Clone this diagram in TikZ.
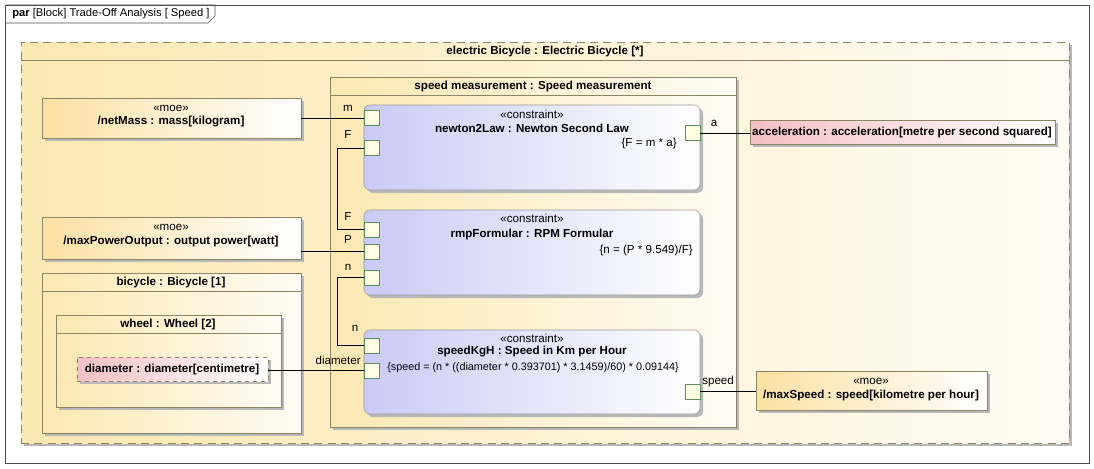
\documentclass[tikz,border=0pt]{standalone}
\usepackage{fontspec}
\setmainfont{Liberation Sans}
\usetikzlibrary{positioning,fit,shadows}
\definecolor{frameLine}{HTML}{8C8463}
\definecolor{partFill}{HTML}{FCE8B2}
\definecolor{moeFill}{HTML}{FBE0A2}
\definecolor{valFill}{HTML}{F4C0C4}
\definecolor{conFill}{HTML}{CACAF6}
\definecolor{portLine}{HTML}{5E8E5E}
\definecolor{portFill}{HTML}{FFFFE4}

\begin{document}
\begin{tikzpicture}[x=0.75pt,y=-0.75pt,
  every node/.style={font=\fontsize{8.7}{10}\selectfont},
  txt/.style={inner sep=0pt},
  small/.style={inner sep=0pt,font=\fontsize{8.4}{10}\selectfont},
  ttl/.style={inner sep=0pt,font=\fontsize{8.7}{10}\selectfont\bfseries},
  box/.style={draw=frameLine,inner sep=0pt,
    drop shadow={shadow xshift=2.25pt,shadow yshift=-2.25pt,fill=black!28,opacity=1}},
  part/.style={box,left color=partFill,right color=partFill!15!white},
  moebox/.style={box,left color=moeFill,right color=white},
  valbox/.style={box,dashed,left color=valFill,right color=white},
  cblock/.style={box,draw=black!40,rounded corners=4.5pt,left color=conFill,right color=white},
  port/.style={draw=portLine,fill=portFill,minimum size=11.25pt,inner sep=0pt},
  conn/.style={draw=black,line width=0.75pt}]
\useasboundingbox (0,0) rectangle (1094,468);

% diagram frame
\draw[black!70] (5,5) rectangle (1089,463);
\draw[black!70] (5,5) -- (215,5) -- (215,16) -- (208,23) -- (5,23);
\node[small,anchor=west] (frameTitle) at (12,14) {\textbf{par} [Block] Trade-Off Analysis [ Speed ]};

% electric bicycle
\node[part,dash pattern=on 6pt off 4pt,fit={(21,42) (1069,443)}] (elBike) {};
\draw[frameLine] (21,60) -- (1069,60);
\node[ttl] (elBikeTitle) at (545,51) {electric Bicycle : Electric Bicycle [*]};

% moes and bicycle parts
\node[moebox,fit={(42,98) (301,138)}] (netMass) {};
\node[txt] at (171,108) {«moe»};
\node[ttl] at (171,122) {/netMass : mass[kilogram]};

\node[moebox,fit={(42,217) (301,259)}] (maxPower) {};
\node[txt] at (171,227) {«moe»};
\node[ttl] at (171,241) {/maxPowerOutput : output power[watt]};

\node[part,fit={(42,273) (301,433)}] (bicycle) {};
\draw[frameLine] (42,291) -- (301,291);
\node[ttl] at (171,282) {bicycle : Bicycle [1]};

\node[part,fit={(56,315) (281,407)}] (wheel) {};
\draw[frameLine] (56,333) -- (281,333);
\node[ttl] at (168,324) {wheel : Wheel [2]};

\node[valbox,fit={(77,357) (268,381)}] (diameter) {};
\node[ttl] at (172,369) {diameter : diameter[centimetre]};

% speed measurement
\node[part,fit={(330,77) (736,427)}] (speedMeas) {};
\draw[frameLine] (330,95) -- (736,95);
\node[ttl] at (533,86) {speed measurement : Speed measurement};

\node[cblock,fit={(364,105) (700,190)}] (newton) {};
\node[txt] at (532,114) {«constraint»};
\node[ttl] at (532,128) {newton2Law : Newton Second Law};
\node[txt,anchor=east] at (677,143) {\{F = m * a\}};

\node[cblock,fit={(364,210) (700,295)}] (rmp) {};
\node[txt] at (532,218) {«constraint»};
\node[ttl] at (532,234) {rmpFormular : RPM Formular};
\node[txt,anchor=east] at (693,250) {\{n = (P * 9.549)/F\}};

\node[cblock,fit={(364,330) (700,414)}] (speedKgH) {};
\node[txt] at (532,338) {«constraint»};
\node[ttl] at (532,352) {speedKgH : Speed in Km per Hour};
\node[small,font=\fontsize{8.1}{10}\selectfont] at (533,368) {\{speed = (n * ((diameter * 0.393701) * 3.1459)/60) * 0.09144\}};

% values outside
\node[valbox,solid,fit={(750,120) (1055,144)}] (accel) {};
\node[ttl] at (902,132) {acceleration : acceleration[metre per second squared]};

\node[moebox,fit={(756,371) (987,410)}] (maxSpeed) {};
\node[txt] at (871,381) {«moe»};
\node[ttl] at (871,395) {/maxSpeed : speed[kilometre per hour]};

% ports
\node[port] (nwM) at (372,118) {};
\node[port] (nwF) at (372,148) {};
\node[port] (nwA) at (692.5,133) {};
\node[port] (rpF) at (372,229.5) {};
\node[port] (rpP) at (372,251.5) {};
\node[port] (rpN) at (372,277.5) {};
\node[port] (skN) at (372,345.5) {};
\node[port] (skD) at (372,370.5) {};
\node[port] (skS) at (692.5,391.5) {};

\node[txt] at (348,108) {m};
\node[txt] at (348,135) {F};
\node[txt] at (714,123) {a};
\node[txt] at (348,217) {F};
\node[txt] at (348,240) {P};
\node[txt] at (348,267) {n};
\node[txt] at (355,328) {n};
\node[txt,anchor=east] at (361,360) {diameter};
\node[txt,anchor=west] at (702,381) {speed};

% binding connectors
\draw[conn] (netMass.east) -- (nwM.west);
\draw[conn] (nwF.west) -- ++(-27,0) |- (rpF.west);
\draw[conn] (rpP.west) -- (rpP.west -| maxPower.east);
\draw[conn] (rpN.west) -- ++(-27,0) |- (skN.west);
\draw[conn] (skD.west) -- (skD.west -| diameter.east);
\draw[conn] (nwA.east) -- (nwA.east -| accel.west);
\draw[conn] (skS.east) -- (skS.east -| maxSpeed.west);
\end{tikzpicture}
\end{document}
